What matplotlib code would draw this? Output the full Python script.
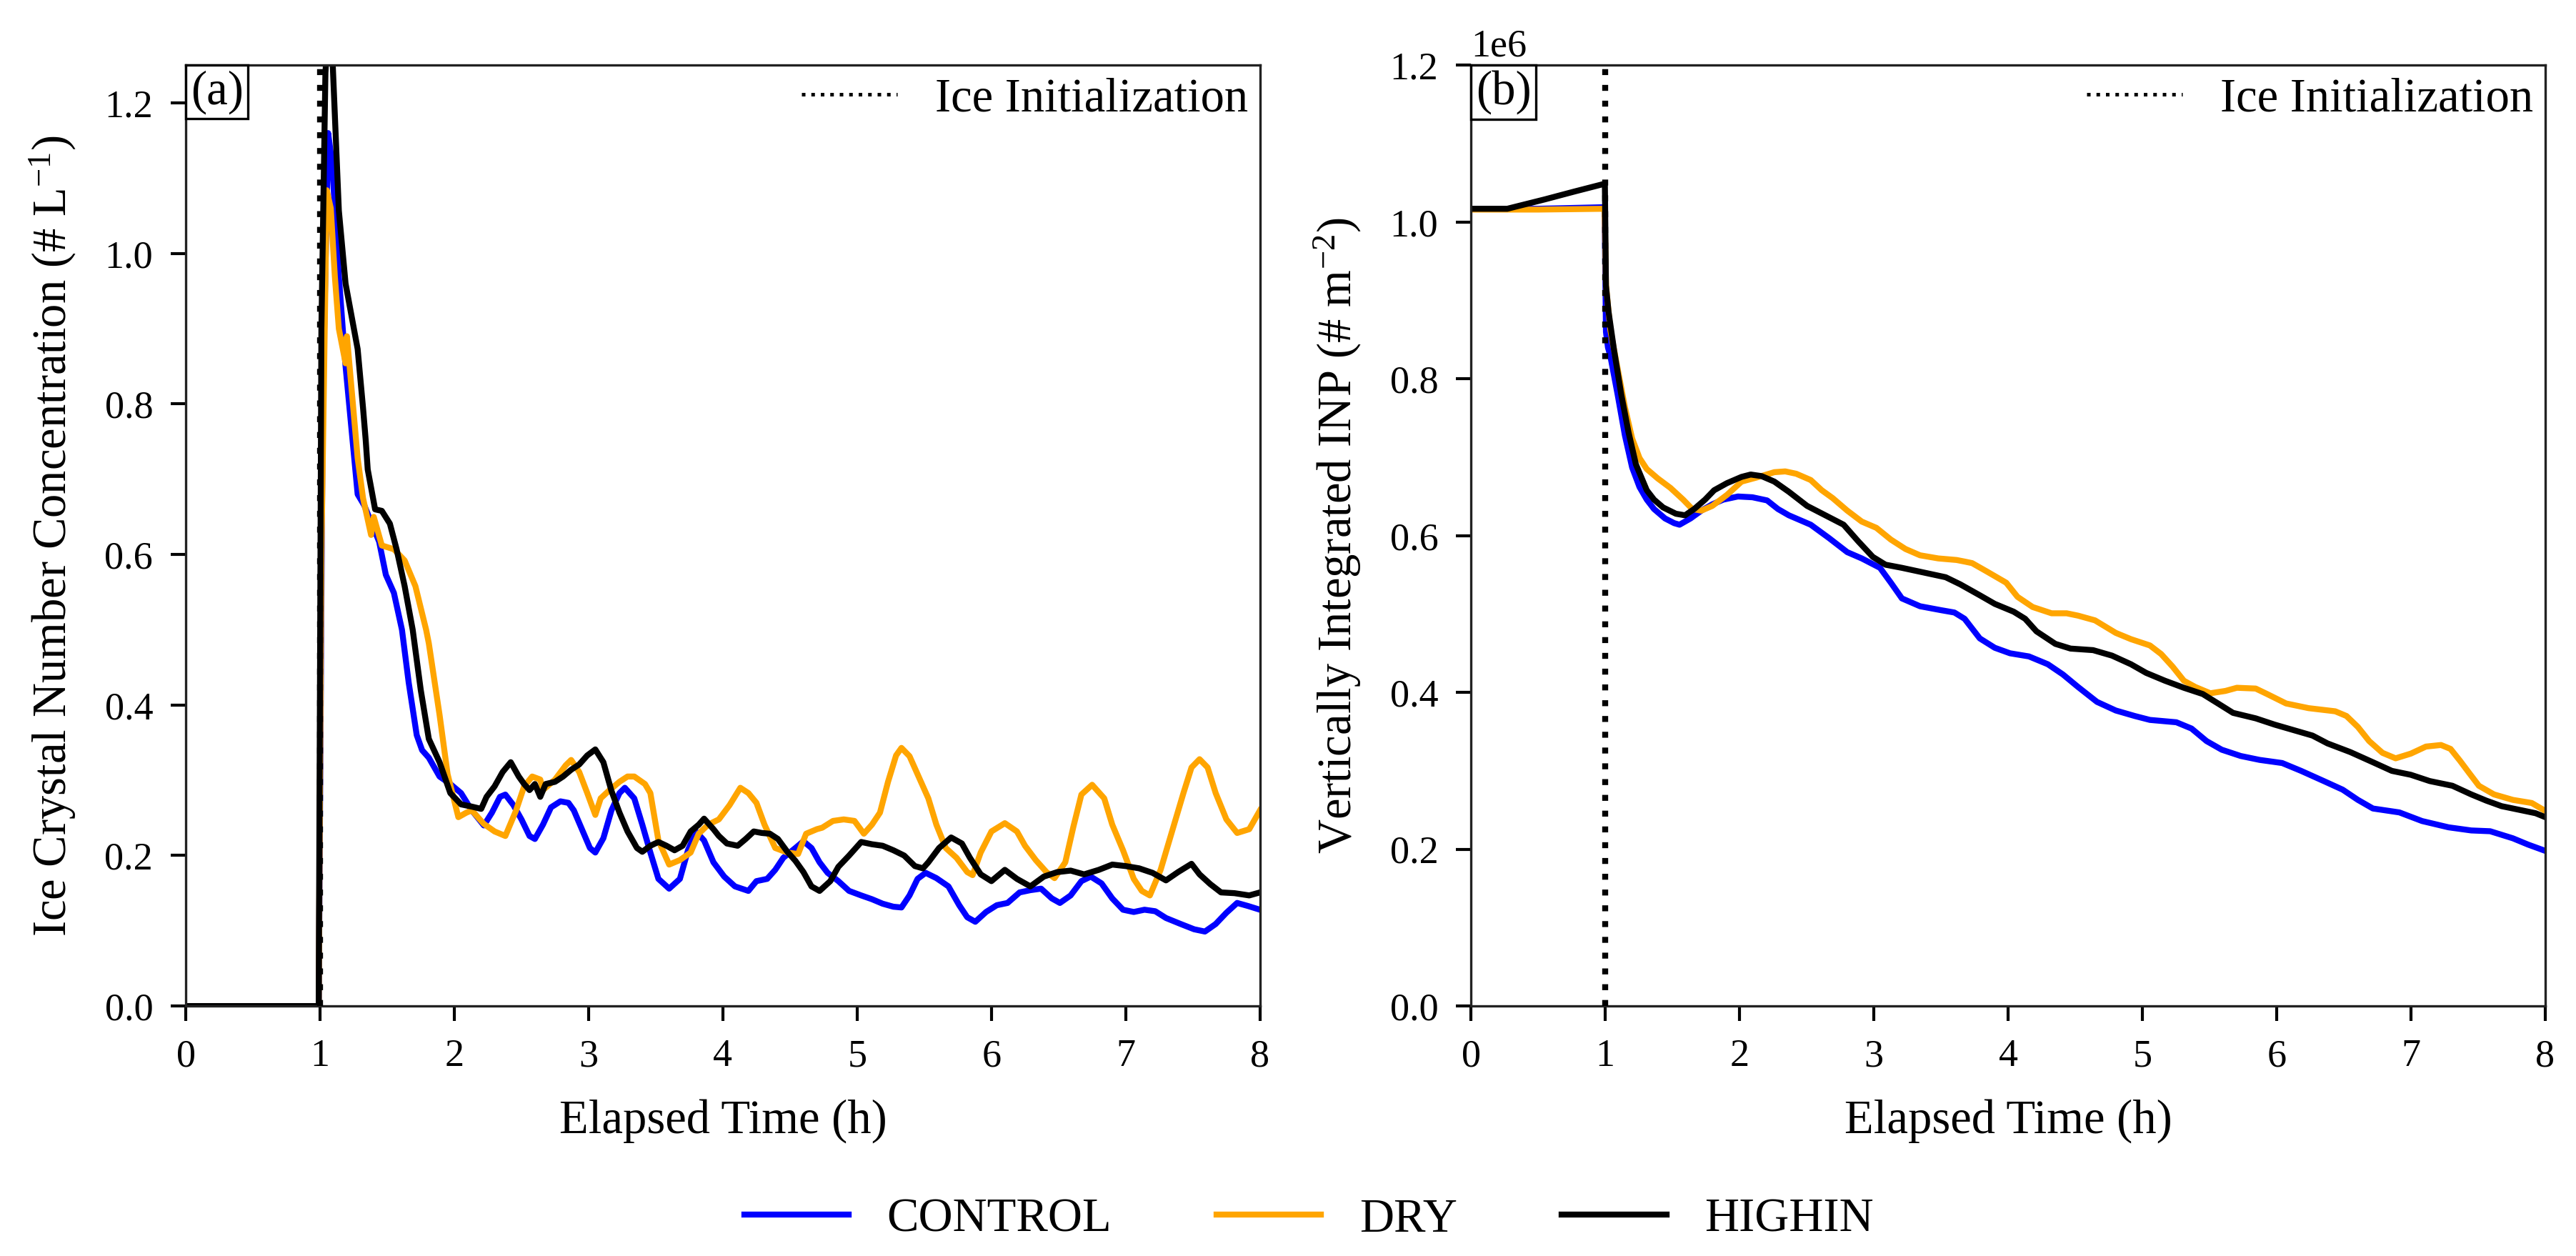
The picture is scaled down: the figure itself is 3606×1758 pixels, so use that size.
import matplotlib
matplotlib.use("Agg")
import matplotlib.pyplot as plt
from matplotlib.lines import Line2D
from matplotlib.offsetbox import AnchoredText

plt.rcParams['font.family'] = ['Liberation Serif', 'DejaVu Serif']
plt.rcParams['mathtext.fontset'] = 'custom'
plt.rcParams['mathtext.rm'] = 'Liberation Serif'
plt.rcParams['mathtext.it'] = 'Liberation Serif:italic'

# ---- panel (a): ice crystal number concentration (# L^-1) ----
t_ctl_a = [0, 0.99, 1.02, 1.06, 1.09, 1.14, 1.19, 1.28, 1.33, 1.44, 1.49, 1.55, 1.61, 1.66, 1.72, 1.76,
           1.81, 1.89, 1.97, 2.05, 2.13, 2.22, 2.28, 2.34, 2.38, 2.44, 2.50, 2.56, 2.60, 2.66, 2.72, 2.79,
           2.85, 2.89, 2.95, 3.01, 3.05, 3.11, 3.17, 3.23, 3.27, 3.34, 3.40, 3.46, 3.52, 3.60, 3.68, 3.74,
           3.80, 3.86, 3.93, 4.01, 4.09, 4.19, 4.25, 4.33, 4.39, 4.45, 4.54, 4.60, 4.66, 4.72, 4.78, 4.86,
           4.94, 5.03, 5.11, 5.19, 5.27, 5.33, 5.39, 5.45, 5.51, 5.59, 5.68, 5.76, 5.82, 5.88, 5.96, 6.04,
           6.12, 6.21, 6.29, 6.37, 6.45, 6.51, 6.59, 6.67, 6.74, 6.82, 6.90, 6.98, 7.06, 7.14, 7.22, 7.30,
           7.41, 7.51, 7.59, 7.67, 7.75, 7.83, 7.91, 8.0]
v_ctl_a = [0, 0, 0.80, 1.16, 1.12, 0.97, 0.85, 0.68, 0.665, 0.617, 0.573, 0.549, 0.50, 0.43, 0.36, 0.34,
           0.33, 0.305, 0.295, 0.283, 0.26, 0.24, 0.257, 0.278, 0.281, 0.267, 0.248, 0.226, 0.222, 0.241, 0.264, 0.272,
           0.27, 0.26, 0.235, 0.21, 0.204, 0.223, 0.26, 0.283, 0.29, 0.276, 0.241, 0.204, 0.169, 0.156, 0.169, 0.207,
           0.232, 0.22, 0.191, 0.172, 0.159, 0.153, 0.166, 0.169, 0.181, 0.197, 0.21, 0.219, 0.21, 0.191, 0.177, 0.166,
           0.153, 0.147, 0.142, 0.136, 0.132, 0.131, 0.147, 0.169, 0.177, 0.17, 0.159, 0.134, 0.118, 0.112, 0.125, 0.134,
           0.137, 0.151, 0.154, 0.156, 0.143, 0.137, 0.147, 0.166, 0.172, 0.163, 0.143, 0.128, 0.125, 0.128, 0.126, 0.117,
           0.109, 0.102, 0.099, 0.109, 0.124, 0.137, 0.133, 0.128]

t_dry_a = [0, 0.99, 1.01, 1.05, 1.08, 1.11, 1.14, 1.19, 1.20, 1.22, 1.28, 1.32, 1.38, 1.40, 1.46, 1.55, 1.63,
           1.71, 1.79, 1.81, 1.89, 1.95, 2.03, 2.09, 2.13, 2.22, 2.30, 2.38, 2.46, 2.52, 2.58, 2.64, 2.66,
           2.75, 2.83, 2.87, 2.93, 2.99, 3.05, 3.09, 3.15, 3.23, 3.29, 3.34, 3.42, 3.46, 3.52, 3.60, 3.68,
           3.76, 3.82, 3.89, 3.97, 4.05, 4.13, 4.19, 4.25, 4.31, 4.39, 4.48, 4.56, 4.62, 4.70, 4.74, 4.82,
           4.90, 4.98, 5.05, 5.11, 5.17, 5.23, 5.29, 5.33, 5.39, 5.45, 5.53, 5.59, 5.66, 5.74, 5.82, 5.86,
           5.92, 6.00, 6.10, 6.19, 6.25, 6.33, 6.41, 6.47, 6.55, 6.61, 6.67, 6.75, 6.84, 6.90, 6.98, 7.06,
           7.12, 7.18, 7.26, 7.35, 7.43, 7.49, 7.55, 7.61, 7.67, 7.75, 7.83, 7.92, 8.0]
v_dry_a = [0, 0, 0.60, 1.084, 1.06, 0.97, 0.90, 0.854, 0.89, 0.85, 0.728, 0.675, 0.626, 0.65, 0.612, 0.607, 0.592,
           0.558, 0.50, 0.482, 0.387, 0.308, 0.251, 0.257, 0.26, 0.242, 0.232, 0.226, 0.26, 0.292, 0.305, 0.301, 0.287,
           0.301, 0.32, 0.327, 0.311, 0.283, 0.254, 0.276, 0.286, 0.298, 0.305, 0.305, 0.295, 0.283, 0.22, 0.188, 0.194,
           0.204, 0.229, 0.241, 0.248, 0.267, 0.29, 0.283, 0.27, 0.241, 0.21, 0.204, 0.202, 0.229, 0.235, 0.237, 0.246,
           0.248, 0.246, 0.229, 0.241, 0.257, 0.298, 0.333, 0.343, 0.332, 0.308, 0.276, 0.241, 0.21, 0.197, 0.178, 0.174,
           0.204, 0.232, 0.243, 0.232, 0.213, 0.194, 0.178, 0.17, 0.191, 0.238, 0.281, 0.294, 0.276, 0.241, 0.207, 0.169,
           0.153, 0.147, 0.181, 0.235, 0.283, 0.317, 0.328, 0.317, 0.283, 0.248, 0.23, 0.235, 0.26]

t_hin_a = [0, 0.99, 1.01, 1.04, 1.06, 1.09, 1.14, 1.19, 1.28, 1.32, 1.34, 1.355, 1.41, 1.46, 1.52, 1.57, 1.63,
           1.69, 1.75, 1.81, 1.89, 1.97, 2.05, 2.13, 2.20, 2.24, 2.30, 2.36, 2.42, 2.48, 2.52, 2.56, 2.60,
           2.64, 2.68, 2.75, 2.81, 2.87, 2.93, 2.99, 3.05, 3.11, 3.17, 3.23, 3.29, 3.36, 3.40, 3.46, 3.52,
           3.58, 3.64, 3.70, 3.76, 3.82, 3.86, 3.93, 3.97, 4.03, 4.11, 4.17, 4.23, 4.29, 4.35, 4.41, 4.48,
           4.54, 4.60, 4.66, 4.72, 4.80, 4.86, 4.94, 5.03, 5.11, 5.19, 5.27, 5.35, 5.43, 5.49, 5.53, 5.61,
           5.70, 5.78, 5.84, 5.92, 6.00, 6.10, 6.19, 6.29, 6.39, 6.49, 6.59, 6.69, 6.80, 6.90, 7.00, 7.10,
           7.20, 7.30, 7.39, 7.49, 7.55, 7.63, 7.71, 7.81, 7.92, 8.0]
v_hin_a = [0, 0, 0.90, 1.24, 1.30, 1.27, 1.057, 0.96, 0.873, 0.795, 0.752, 0.713, 0.66, 0.658, 0.641, 0.607, 0.558,
           0.50, 0.42, 0.355, 0.324, 0.283, 0.268, 0.265, 0.262, 0.278, 0.292, 0.311, 0.324, 0.305, 0.295, 0.287, 0.295,
           0.278, 0.295, 0.298, 0.305, 0.314, 0.321, 0.333, 0.341, 0.324, 0.286, 0.257, 0.232, 0.21, 0.205, 0.213, 0.218,
           0.213, 0.207, 0.213, 0.232, 0.241, 0.249, 0.235, 0.226, 0.216, 0.213, 0.222, 0.232, 0.23, 0.229, 0.222, 0.205,
           0.193, 0.178, 0.159, 0.153, 0.166, 0.185, 0.2, 0.218, 0.215, 0.213, 0.207, 0.2, 0.186, 0.183, 0.191, 0.21,
           0.224, 0.216, 0.197, 0.175, 0.166, 0.181, 0.169, 0.159, 0.172, 0.178, 0.18, 0.175, 0.181, 0.188, 0.186, 0.183,
           0.177, 0.167, 0.178, 0.189, 0.175, 0.162, 0.151, 0.15, 0.147, 0.151]

# ---- panel (b): vertically integrated INP (# m^-2) ----
t_ctl_b = [0, 0.5, 0.995, 1.005, 1.02, 1.038, 1.092, 1.146, 1.200, 1.255, 1.309, 1.363, 1.445, 1.513, 1.553,
           1.635, 1.716, 1.797, 1.879, 1.988, 2.096, 2.205, 2.286, 2.367, 2.530, 2.666, 2.802, 2.910, 3.046,
           3.127, 3.209, 3.344, 3.5, 3.6, 3.676, 3.789, 3.901, 4.014, 4.155, 4.296, 4.408, 4.521, 4.662,
           4.802, 4.943, 5.056, 5.253, 5.366, 5.478, 5.591, 5.732, 5.873, 6.041, 6.182, 6.351, 6.492, 6.605,
           6.717, 6.914, 7.083, 7.280, 7.449, 7.590, 7.759, 7.872, 8.0]
v_ctl_b = [1.017e6, 1.017e6, 1.019e6, 0.86e6, 0.84e6, 0.829e6, 0.78e6, 0.728e6, 0.687e6, 0.662e6, 0.646e6, 0.634e6, 0.622e6, 0.616e6, 0.614e6,
           0.622e6, 0.632e6, 0.64e6, 0.646e6, 0.65e6, 0.649e6, 0.645e6, 0.634e6, 0.626e6, 0.614e6, 0.597e6, 0.579e6, 0.571e6, 0.559e6,
           0.54e6, 0.52e6, 0.51e6, 0.505e6, 0.502e6, 0.494e6, 0.469e6, 0.457e6, 0.45e6, 0.446e6, 0.436e6, 0.423e6, 0.407e6, 0.388e6,
           0.377e6, 0.37e6, 0.365e6, 0.362e6, 0.354e6, 0.338e6, 0.327e6, 0.319e6, 0.314e6, 0.31e6, 0.3e6, 0.287e6, 0.276e6, 0.263e6,
           0.252e6, 0.247e6, 0.236e6, 0.228e6, 0.224e6, 0.223e6, 0.214e6, 0.206e6, 0.198e6]

t_dry_b = [0, 0.5, 0.995, 1.005, 1.038, 1.092, 1.146, 1.200, 1.255, 1.309, 1.391, 1.485, 1.580, 1.648, 1.716,
           1.797, 1.906, 2.015, 2.123, 2.259, 2.340, 2.422, 2.530, 2.612, 2.693, 2.802, 2.910, 3.019, 3.127,
           3.236, 3.344, 3.480, 3.616, 3.676, 3.732, 3.845, 3.986, 4.070, 4.183, 4.324, 4.436, 4.521, 4.647,
           4.802, 4.915, 5.056, 5.140, 5.225, 5.309, 5.394, 5.506, 5.619, 5.704, 5.844, 5.929, 6.070, 6.238,
           6.436, 6.520, 6.605, 6.689, 6.788, 6.886, 6.999, 7.112, 7.224, 7.295, 7.365, 7.435, 7.506, 7.618,
           7.759, 7.900, 8.0]
v_dry_b = [1.016e6, 1.016e6, 1.017e6, 0.92e6, 0.862e6, 0.813e6, 0.764e6, 0.724e6, 0.699e6, 0.685e6, 0.673e6, 0.661e6, 0.646e6, 0.634e6, 0.632e6,
           0.638e6, 0.652e6, 0.669e6, 0.674e6, 0.681e6, 0.682e6, 0.679e6, 0.671e6, 0.658e6, 0.648e6, 0.632e6, 0.618e6, 0.61e6, 0.595e6,
           0.583e6, 0.575e6, 0.571e6, 0.569e6, 0.567e6, 0.565e6, 0.554e6, 0.54e6, 0.522e6, 0.509e6, 0.501e6, 0.501e6, 0.498e6, 0.492e6,
           0.476e6, 0.468e6, 0.46e6, 0.449e6, 0.433e6, 0.415e6, 0.407e6, 0.399e6, 0.402e6, 0.406e6, 0.405e6, 0.398e6, 0.386e6, 0.38e6,
           0.376e6, 0.37e6, 0.356e6, 0.338e6, 0.323e6, 0.316e6, 0.322e6, 0.331e6, 0.333e6, 0.328e6, 0.313e6, 0.297e6, 0.281e6, 0.27e6,
           0.263e6, 0.259e6, 0.249e6]

t_hin_b = [0, 0.27, 0.55, 0.77, 0.997, 1.005, 1.024, 1.065, 1.119, 1.173, 1.228, 1.309, 1.363, 1.431, 1.526,
           1.594, 1.662, 1.743, 1.811, 1.906, 2.015, 2.083, 2.164, 2.259, 2.367, 2.503, 2.639, 2.775, 2.883,
           2.992, 3.087, 3.209, 3.372, 3.535, 3.643, 3.789, 3.901, 4.042, 4.127, 4.211, 4.352, 4.465, 4.633,
           4.774, 4.915, 5.028, 5.168, 5.309, 5.450, 5.563, 5.675, 5.844, 5.985, 6.126, 6.267, 6.379, 6.548,
           6.717, 6.858, 6.999, 7.140, 7.309, 7.449, 7.562, 7.675, 7.816, 7.928, 8.0]
v_hin_b = [1.017e6, 1.017e6, 1.029e6, 1.039e6, 1.049e6, 0.919e6, 0.886e6, 0.837e6, 0.78e6, 0.732e6, 0.691e6, 0.658e6, 0.646e6, 0.636e6, 0.628e6,
           0.626e6, 0.634e6, 0.646e6, 0.658e6, 0.667e6, 0.675e6, 0.678e6, 0.676e6, 0.669e6, 0.656e6, 0.638e6, 0.626e6, 0.614e6, 0.593e6,
           0.573e6, 0.563e6, 0.559e6, 0.553e6, 0.547e6, 0.538e6, 0.524e6, 0.513e6, 0.503e6, 0.494e6, 0.478e6, 0.462e6, 0.456e6, 0.454e6,
           0.447e6, 0.436e6, 0.425e6, 0.415e6, 0.406e6, 0.398e6, 0.386e6, 0.374e6, 0.367e6, 0.359e6, 0.352e6, 0.345e6, 0.335e6, 0.324e6,
           0.311e6, 0.3e6, 0.295e6, 0.287e6, 0.281e6, 0.27e6, 0.262e6, 0.255e6, 0.25e6, 0.246e6, 0.241e6]

runs = ["CONTROL", "DRY", "HIGHIN"]
colors = ["blue", "orange", "black"]
ice_init = 1.0

fig = plt.figure(figsize=(12.023, 5.86), dpi=300)
ax1 = fig.add_axes([0.0721, 0.199, 0.4169, 0.749])
ax2 = fig.add_axes([0.5709, 0.199, 0.4169, 0.749])

panels = [
    (ax1, [(t_ctl_a, v_ctl_a), (t_dry_a, v_dry_a), (t_hin_a, v_hin_a)], "(a)",
     "Ice Crystal Number Concentration (# L$^{-1}$)", 1.25),
    (ax2, [(t_ctl_b, v_ctl_b), (t_dry_b, v_dry_b), (t_hin_b, v_hin_b)], "(b)",
     "Vertically Integrated INP (# m$^{-2}$)", 1.2e6),
]

for ax, series, tag, ylab, ytop in panels:
    for (t, v), name, c in zip(series, runs, colors):
        ax.plot(t, v, color=c, lw=2.0, label=name)
    ax.axvline(ice_init, color="black", ls=":", lw=2.0, zorder=5)
    ax.set_xlim(0, 8)
    ax.set_ylim(0, ytop)
    ax.set_xticks(range(0, 9))
    ax.set_xlabel("Elapsed Time (h)", fontsize=16, labelpad=8)
    ax.set_ylabel(ylab, fontsize=16, labelpad=9)
    ax.tick_params(direction="out", length=5, width=1.0, pad=6, labelsize=13)
    for sp in ax.spines.values():
        sp.set_linewidth(0.8)
        sp.set_color("#222222")
    h = Line2D([], [], color="black", ls=":", lw=1.2)
    ax.legend([h], ["Ice Initialization"], loc="upper right", frameon=False,
              fontsize=16, handlelength=2.0, borderaxespad=0.1, borderpad=0.15)
    at = AnchoredText(tag, loc="upper left", prop=dict(size=16), pad=0.1, borderpad=0.0, frameon=True)
    at.patch.set_boxstyle("square,pad=0")
    at.patch.set_linewidth(0.8)
    ax.add_artist(at)

ax1.set_yticks([0.0, 0.2, 0.4, 0.6, 0.8, 1.0, 1.2])
ax1.set_yticklabels(["0.0", "0.2", "0.4", "0.6", "0.8", "1.0", "1.2"])
ax2.set_yticks([0, 0.2e6, 0.4e6, 0.6e6, 0.8e6, 1.0e6, 1.2e6])
ax2.yaxis.get_offset_text().set_fontsize(13)

lines = ax1.get_lines()[:3]
fig.legend(lines, runs, loc="center", bbox_to_anchor=(0.508, 0.029), ncol=3,
           frameon=False, fontsize=16, handlelength=2.2, columnspacing=2.2)

fig.savefig("out.png", dpi=300)
